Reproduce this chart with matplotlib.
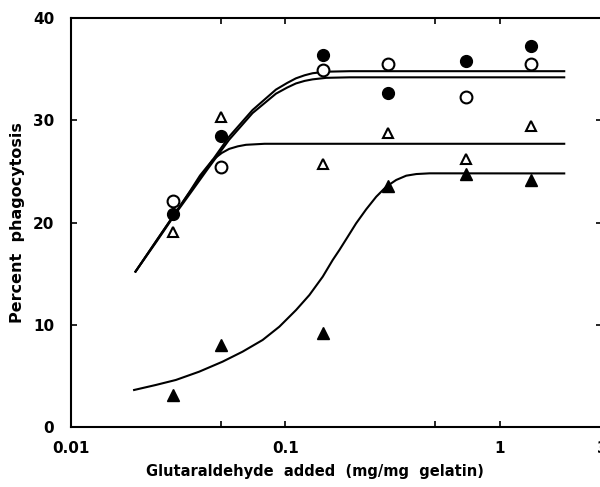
import numpy as np
import matplotlib
matplotlib.use("Agg")
import matplotlib.pyplot as plt

# measured points (mg glutaraldehyde / mg gelatin)
dose = [0.03, 0.05, 0.15, 0.3, 0.7, 1.4]
filled_circle = [20.8, 28.5, 36.4, 32.7, 35.8, 37.3]
open_circle = [22.1, 25.4, 34.9, 35.5, 32.3, 35.5]
open_tri = [19.1, 30.3, 25.7, 28.8, 26.2, 29.4]
filled_tri = [3.1, 8.0, 9.2, 23.6, 24.7, 24.2]

# fitted curves
fc_x = [0.02, 0.025, 0.0306, 0.037, 0.0433, 0.0547, 0.0703, 0.0904, 0.102, 0.112, 0.123, 0.134, 0.155, 0.2, 2.0]
fc_y = [15.2, 18.2, 20.9, 23.4, 25.4, 28.4, 31.0, 33.0, 33.65, 34.1, 34.4, 34.6, 34.75, 34.8, 34.8]
oc_x = [0.02, 0.025, 0.0306, 0.037, 0.0433, 0.0547, 0.0703, 0.0904, 0.102, 0.112, 0.123, 0.134, 0.155, 0.2, 2.0]
oc_y = [15.2, 18.1, 20.8, 23.2, 25.2, 28.1, 30.7, 32.6, 33.2, 33.6, 33.85, 34.0, 34.15, 34.2, 34.2]
ot_x = [0.02, 0.025, 0.0306, 0.036, 0.040, 0.0457, 0.0505, 0.0547, 0.0600, 0.0655, 0.08, 2.0]
ot_y = [15.2, 18.2, 20.9, 23.1, 24.6, 26.1, 26.8, 27.2, 27.45, 27.6, 27.7, 27.7]
ft_x = [0.0197, 0.02487, 0.03085, 0.03963, 0.05095, 0.06319, 0.07834, 0.09376, 0.1122, 0.1295,
        0.1494, 0.1663, 0.1787, 0.1955, 0.2139, 0.2383, 0.2654, 0.2954, 0.3289, 0.3664,
        0.4083, 0.471, 2.0]
ft_y = [3.62, 4.11, 4.60, 5.41, 6.39, 7.37, 8.51, 9.81, 11.44, 12.91,
        14.70, 16.33, 17.31, 18.61, 19.92, 21.29, 22.52, 23.50, 24.16, 24.58,
        24.74, 24.81, 24.8]

plt.rcParams['font.family'] = ['DejaVu Sans']
fig = plt.figure(figsize=(6, 4.87), dpi=100)
ax = fig.add_axes([0.1183, 0.1232, 0.885, 0.8398])

lw = 1.5
for cx, cy in [(fc_x, fc_y), (oc_x, oc_y), (ot_x, ot_y), (ft_x, ft_y)]:
    ax.plot(cx, cy, color='black', lw=lw, solid_joinstyle='round')

ax.plot(dose, filled_circle, 'o', ms=8.5, mfc='black', mec='black', ls='none')
ax.plot(dose, open_circle, 'o', ms=8.5, mfc='white', mec='black', mew=1.5, ls='none')
ax.plot(dose, open_tri, '^', ms=7.5, mfc='white', mec='black', mew=1.5, ls='none')
ax.plot(dose, filled_tri, '^', ms=8.5, mfc='black', mec='black', ls='none')

ax.set_xscale('log')
ax.set_xlim(0.01, 3)
ax.set_ylim(0, 40)
ax.set_xticks([0.01, 0.05, 0.1, 0.5, 1, 3])
ax.set_xticklabels(['0.01', '', '0.1', '', '1', '3'])
ax.xaxis.set_minor_locator(matplotlib.ticker.NullLocator())
ax.set_yticks([0, 10, 20, 30, 40])
ax.tick_params(direction='in', length=4, width=1.2, top=True, right=True,
               labelsize=11)
ax.tick_params(axis='x', pad=10)
ax.tick_params(axis='y', pad=12)
for lab in ax.get_xticklabels() + ax.get_yticklabels():
    lab.set_fontweight('bold')
for s in ax.spines.values():
    s.set_linewidth(1.5)

ax.set_xlabel('Glutaraldehyde  added  (mg/mg  gelatin)', fontsize=10.5,
              fontweight='bold')
ax.xaxis.set_label_coords(0.46, -0.09)
ax.set_ylabel('Percent  phagocytosis', fontsize=11.5, fontweight='bold', labelpad=6)

fig.savefig('out.png', dpi=100)
